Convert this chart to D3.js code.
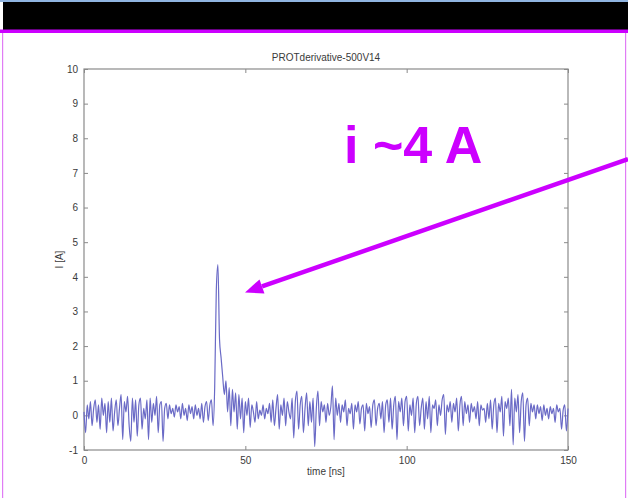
<!DOCTYPE html>
<html>
<head>
<meta charset="utf-8">
<script src="https://cdn.jsdelivr.net/npm/d3@7"></script>
<style>
  body { margin: 0; background: #fff; }
  svg { display: block; font-family: "Liberation Sans", Arial, sans-serif; }
</style>
</head>
<body>
<svg id="chart"></svg>
<script>
// sample spacing of the trace, ns
const timeStep = 0.5;

// current trace I [A], one value every 0.5 ns from 0 to 150 ns
const current = [
  0.1, -0.5, 0.3, -0.1, 0.4, -0.3, 0.2, 0.45, -0.2, 0.3,
  -0.4, 0.5, 0.0, 0.35, -0.5, 0.4, -0.2, 0.5, -0.45, 0.1,
  0.45, -0.3, 0.2, 0.6, -0.7, 0.4, 0.1, 0.55, -0.3, -0.75,
  0.5, -0.2, 0.45, -0.6, 0.3, 0.5, -0.4, 0.2, -0.1, 0.45,
  -0.7, 0.5, -0.2, 0.35, 0.0, 0.55, -0.5, 0.3, 0.4, -0.75,
  0.2, 0.35, -0.1, 0.3, 0.05, 0.2, -0.05, 0.3, 0.1, 0.25,
  -0.1, 0.35, 0.0, 0.2, -0.15, 0.3, 0.05, 0.25, -0.1, 0.3,
  0.0, 0.2, -0.1, 0.35, -0.2, 0.25, 0.4, -0.15, 0.3, 0.45,
  -0.3, 0.8, 3.6, 4.35, 2.2, 1.65, 1.1, 0.6, 1.0, 0.1,
  0.8, -0.3, 0.75, 0.1, 0.65, -0.4, 0.6, -0.1, 0.5, -0.5,
  0.4, 0.0, 0.5, -0.35, 0.3, 0.1, -0.2, 0.4, -0.1, 0.15,
  0.0, 0.3, -0.1, 0.2, 0.05, 0.35, -0.2, 0.45, -0.3, 0.2,
  0.6, -0.4, 0.3, 0.0, 0.5, -0.3, 0.4, 0.1, -0.1, 0.5,
  -0.65, 0.4, 0.7, -0.4, 0.3, 0.55, -0.5, 0.2, 0.65, -0.3,
  0.4, -0.2, 0.5, -0.9, 0.2, 0.7, -0.3, 0.4, 0.1, 0.3,
  -0.2, 0.35, 0.0, 0.25, 0.85, -0.7, 0.5, 0.0, 0.35, -0.2,
  0.3, 0.1, 0.45, -0.3, 0.2, 0.05, 0.35, -0.4, 0.3, 0.1,
  0.4, -0.25, 0.2, 0.3, -0.45, 0.35, 0.05, 0.25, -0.35, 0.3,
  0.45, -0.3, 0.2, 0.35, -0.1, 0.4, -0.5, 0.3, 0.45, -0.2,
  0.5, -0.4, 0.3, 0.55, -0.7, 0.4, 0.1, 0.5, -0.3, 0.4,
  0.55, -0.45, 0.3, 0.0, 0.5, -0.5, 0.35, 0.55, -0.3, 0.2,
  0.5, -0.4, 0.4, -0.1, 0.55, -0.5, 0.3, 0.2, 0.45, -0.3,
  0.3, 0.0, 0.45, 0.6, -0.55, 0.3, 0.1, 0.4, -0.2, 0.35,
  0.1, 0.5, -0.45, 0.3, 0.55, -0.3, 0.4, 0.05, 0.3, -0.2,
  0.35, 0.1, 0.25, -0.1, 0.4, -0.3, 0.3, 0.15, 0.2, -0.2,
  0.35, -0.1, 0.45, -0.4, 0.3, 0.5, -0.5, 0.35, 0.1, 0.55,
  -0.6, 0.4, 0.2, 0.5, -0.3, 0.75, -0.85, 0.5, 0.1, 0.6,
  -0.5, 0.4, 0.65, -0.75, 0.3, 0.5, -0.3, 0.35, 0.1, 0.3,
  -0.1, 0.3, 0.05, 0.25, -0.15, 0.3, 0.0, 0.2, -0.1, 0.25,
  0.05, 0.2, -0.2, 0.3, 0.1, 0.2, -0.4, 0.15, 0.3, -0.45,
  0.2
];

const xTicks = [0, 50, 100, 150];
const yTicks = [-1, 0, 1, 2, 3, 4, 5, 6, 7, 8, 9, 10];

const chartTitle = "PROTderivative-500V14";
const xLabel = "time [ns]";
const yLabel = "I [A]";
const noteText = "i ~4 A";
// arrow from off the right edge to just beside the peak, in data units (ns, A)
const arrowFrom = [168.6, 7.4];
const arrowTo = [49.9, 3.55];

const W = 628, H = 498;
const svg = d3.select("#chart").attr("width", W).attr("height", H);

// slide frame: thin blue top line, black header, magenta rule and side borders
svg.append("rect").attr("x", 0).attr("y", 0).attr("width", W).attr("height", 2).attr("fill", "#8fb4e0");
svg.append("rect").attr("x", 3).attr("y", 2).attr("width", W - 3).attr("height", 28).attr("fill", "#000");
svg.append("rect").attr("x", 0).attr("y", 29.5).attr("width", W).attr("height", 3.5).attr("fill", "#cc00ff");
svg.append("rect").attr("x", 2).attr("y", 33).attr("width", 1.2).attr("height", H - 33).attr("fill", "#e07cf5");
svg.append("rect").attr("x", W - 3).attr("y", 33).attr("width", 1.2).attr("height", H - 33).attr("fill", "#e07cf5");

const margin = {top: 69, right: 60, bottom: 48, left: 84};
const width = W - margin.left - margin.right,
      height = H - margin.top - margin.bottom;

const g = svg.append("g").attr("transform", "translate(" + margin.left + "," + margin.top + ")");

const xScale = d3.scaleLinear().domain([0, 150]).range([0, width]);
const yScale = d3.scaleLinear().domain([-1, 10]).range([height, 0]);

const axisColor = "#8a8a8a";
const textColor = "#3a3a3a";
const plainNum = d => String(d); // MATLAB prints a plain hyphen for negatives

// axes, MATLAB style: ticks pointing inwards on all four sides
function styleAxis(sel) {
  sel.select(".domain").remove();
  sel.selectAll(".tick line").attr("stroke", axisColor);
  sel.selectAll(".tick text").attr("fill", textColor).style("font-size", "10px");
}

g.append("g")
  .attr("transform", "translate(0," + height + ")")
  .call(d3.axisBottom(xScale).tickValues(xTicks).tickSize(-4).tickPadding(7).tickFormat(plainNum))
  .call(styleAxis);

g.append("g")
  .call(d3.axisTop(xScale).tickValues(xTicks).tickSize(-4).tickFormat(""))
  .call(styleAxis);

g.append("g")
  .call(d3.axisLeft(yScale).tickValues(yTicks).tickSize(-4).tickPadding(6).tickFormat(plainNum))
  .call(styleAxis);

g.append("g")
  .attr("transform", "translate(" + width + ",0)")
  .call(d3.axisRight(yScale).tickValues(yTicks).tickSize(-4).tickFormat(""))
  .call(styleAxis);

g.append("rect")
  .attr("width", width).attr("height", height)
  .attr("fill", "none").attr("stroke", axisColor).attr("stroke-width", 1.2);

// the trace
const line = d3.line()
  .x((d, i) => xScale(i * timeStep))
  .y(d => yScale(d))
  .curve(d3.curveMonotoneX);

g.append("path")
  .datum(current)
  .attr("fill", "none")
  .attr("stroke", "#6a6ac6")
  .attr("stroke-width", 1.2)
  .attr("stroke-linejoin", "round")
  .attr("d", line);

// labels
g.append("text")
  .attr("x", width / 2).attr("y", -8)
  .attr("text-anchor", "middle")
  .attr("fill", textColor)
  .style("font-size", "10px")
  .text(chartTitle);

g.append("text")
  .attr("x", width / 2).attr("y", height + 25)
  .attr("text-anchor", "middle")
  .attr("fill", textColor)
  .style("font-size", "10px")
  .text(xLabel);

g.append("text")
  .attr("transform", "rotate(-90)")
  .attr("x", -(yScale(4) + yScale(5)) / 2).attr("y", -21)
  .attr("text-anchor", "middle")
  .attr("fill", textColor)
  .style("font-size", "10px")
  .text(yLabel);

// annotation: big magenta note and arrow to the peak
const noteColor = "#cc00ff";
svg.append("text")
  .attr("x", 344).attr("y", 163)
  .attr("fill", noteColor)
  .style("font-size", "52px")
  .style("font-weight", "bold")
  .text(noteText);

const x1 = margin.left + xScale(arrowFrom[0]), y1 = margin.top + yScale(arrowFrom[1]);
const x2 = margin.left + xScale(arrowTo[0]), y2 = margin.top + yScale(arrowTo[1]);
const ang = Math.atan2(y2 - y1, x2 - x1);
const headLen = 18, headHalf = 7.5;
const bx = x2 - headLen * Math.cos(ang), by = y2 - headLen * Math.sin(ang);

svg.append("line")
  .attr("x1", x1).attr("y1", y1).attr("x2", bx).attr("y2", by)
  .attr("stroke", noteColor).attr("stroke-width", 4.5);

svg.append("path")
  .attr("d", d3.line()([
    [x2, y2],
    [bx + headHalf * Math.sin(ang), by - headHalf * Math.cos(ang)],
    [bx - headHalf * Math.sin(ang), by + headHalf * Math.cos(ang)]
  ]) + "Z")
  .attr("fill", noteColor);
</script>
</body>
</html>
